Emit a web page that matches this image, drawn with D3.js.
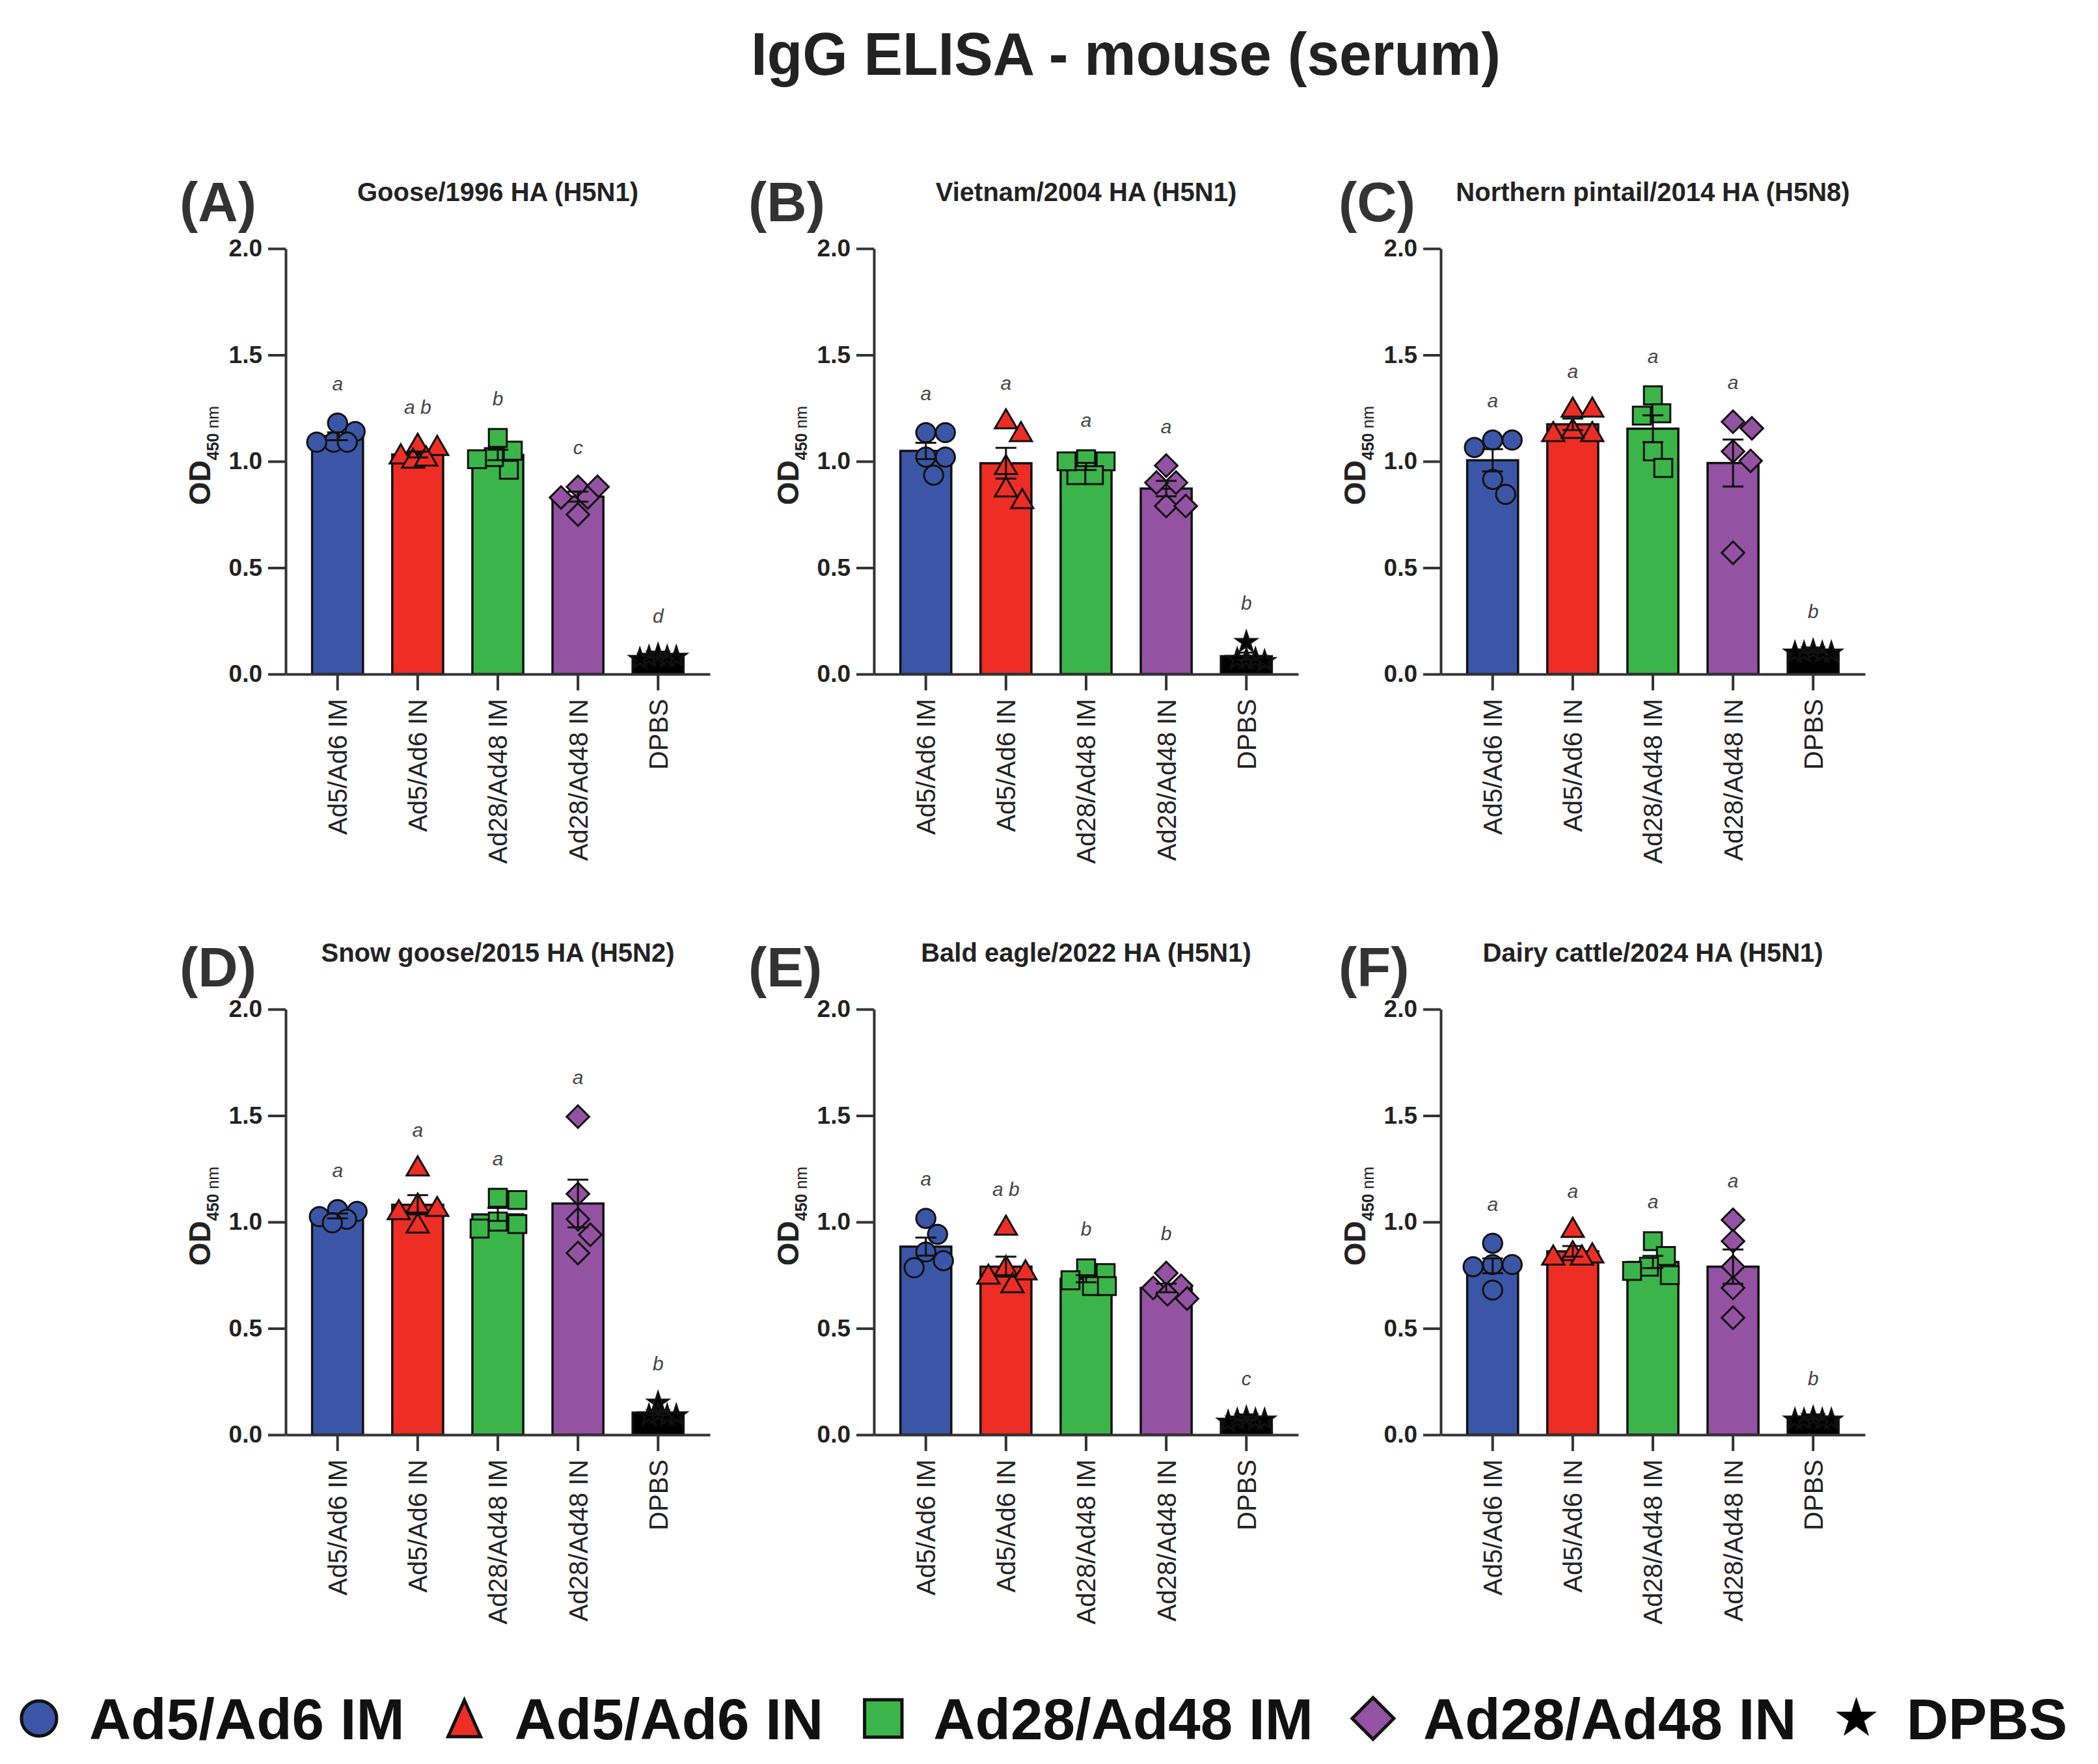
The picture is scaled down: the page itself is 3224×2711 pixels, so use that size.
<!DOCTYPE html>
<html>
<head>
<meta charset="utf-8">
<script src="https://cdn.jsdelivr.net/npm/d3@7"></script>
<style>
  body { margin: 0; background: #fff; }
  svg { display: block; }
  text { font-family: "Liberation Sans", Arial, Helvetica, sans-serif; fill: #222; }
</style>
</head>
<body>
<div id="chart"></div>
<script>
// data

const groups = ["Ad5/Ad6 IM", "Ad5/Ad6 IN", "Ad28/Ad48 IM", "Ad28/Ad48 IN", "DPBS"];
const group_colors = ["#3b56a6", "#ee2d24", "#3bb54a", "#9452a3", "#000000"];
const y_ticks = [0, 0.5, 1.0, 1.5, 2.0];

const panel_letters = ["(A)", "(B)", "(C)", "(D)", "(E)", "(F)"];
const panel_titles = [
    "Goose/1996 HA (H5N1)",
    "Vietnam/2004 HA (H5N1)",
    "Northern pintail/2014 HA (H5N8)",
    "Snow goose/2015 HA (H5N2)",
    "Bald eagle/2022 HA (H5N1)",
    "Dairy cattle/2024 HA (H5N1)"
];

// OD450 per mouse, one row per group (same order as groups)
const od_goose_1996 = [
    [1.18, 1.14, 1.09, 1.09, 1.09],
    [1.07, 1.06, 1.02, 1.00, 1.01],
    [1.05, 0.96, 1.02, 1.11, 1.01],
    [0.88, 0.88, 0.83, 0.83, 0.75],
    [0.09, 0.08, 0.08, 0.08, 0.07]
];
const od_vietnam_2004 = [
    [1.135, 1.135, 1.02, 1.02, 0.935],
    [1.185, 1.125, 0.97, 0.865, 0.81],
    [1.01, 1.00, 0.935, 0.935, 1.00],
    [0.98, 0.90, 0.90, 0.79, 0.79],
    [0.15, 0.07, 0.07, 0.07, 0.06]
];
const od_pintail_2014 = [
    [1.10, 1.10, 1.065, 0.915, 0.845],
    [1.24, 1.24, 1.125, 1.125, 1.14],
    [1.31, 1.226, 1.215, 1.047, 0.969],
    [1.186, 1.155, 1.047, 1.002, 0.57],
    [0.11, 0.10, 0.10, 0.10, 0.10]
];
const od_snow_goose_2015 = [
    [1.058, 1.05, 1.025, 1.013, 0.996],
    [1.249, 1.074, 1.058, 1.043, 0.98],
    [1.114, 1.103, 1.002, 0.99, 0.969],
    [1.495, 1.132, 1.013, 0.94, 0.854],
    [0.15, 0.10, 0.09, 0.09, 0.09]
];
const od_bald_eagle_2022 = [
    [1.017, 0.942, 0.859, 0.818, 0.785],
    [0.97, 0.78, 0.76, 0.74, 0.70],
    [0.782, 0.76, 0.726, 0.699, 0.699],
    [0.76, 0.70, 0.69, 0.66, 0.64],
    [0.08, 0.07, 0.07, 0.07, 0.06]
];
const od_dairy_cattle_2024 = [
    [0.90, 0.80, 0.80, 0.79, 0.68],
    [0.96, 0.85, 0.84, 0.83, 0.83],
    [0.91, 0.84, 0.79, 0.77, 0.75],
    [1.01, 0.91, 0.79, 0.69, 0.55],
    [0.08, 0.07, 0.07, 0.07, 0.07]
];

// significance letters
const sig_goose_1996 = ["a", "a b", "b", "c", "d"];
const sig_vietnam_2004 = ["a", "a", "a", "a", "b"];
const sig_pintail_2014 = ["a", "a", "a", "a", "b"];
const sig_snow_goose_2015 = ["a", "a", "a", "a", "b"];
const sig_bald_eagle_2022 = ["a", "a b", "b", "b", "c"];
const sig_dairy_cattle_2024 = ["a", "a", "a", "a", "b"];

const panel_values = [od_goose_1996, od_vietnam_2004, od_pintail_2014,
    od_snow_goose_2015, od_bald_eagle_2022, od_dairy_cattle_2024];
const panel_sig = [sig_goose_1996, sig_vietnam_2004, sig_pintail_2014,
    sig_snow_goose_2015, sig_bald_eagle_2022, sig_dairy_cattle_2024];

// layout
const W = 3224, H = 2711;
const col_x = [439, 1343, 2214];      // y axis position per column
const row_y0 = [1036, 2205];          // y = 0 line per row
const plot_w = 652, plot_h = 654;
const letter_x = [276, 1150, 2057];
const letter_base = [340, 1516];

// diamond = rotated square
const symbol_diamond = {
    draw(ctx, size) {
        const h = Math.sqrt(size / 2);
        ctx.moveTo(0, -h);
        ctx.lineTo(h, 0);
        ctx.lineTo(0, h);
        ctx.lineTo(-h, 0);
        ctx.closePath();
    }
};
// taller triangle for the legend key
const symbol_tall_triangle = {
    draw(ctx, size) {
        const w = Math.sqrt(size) * 1.0;
        const h = w * 1.12;
        ctx.moveTo(0, -h / 2);
        ctx.lineTo(w / 2, h / 2);
        ctx.lineTo(-w / 2, h / 2);
        ctx.closePath();
    }
};
const symbol_types = [d3.symbolCircle, d3.symbolTriangle, d3.symbolSquare, symbol_diamond, d3.symbolStar];
const legend_types = [d3.symbolCircle, symbol_tall_triangle, d3.symbolSquare, symbol_diamond, d3.symbolStar];
const plot_sizes = [680, 500, 760, 600, 300];
const legend_sizes = [2300, 2500, 3300, 2050, 1150];

const svg = d3.select("#chart")
    .append("svg")
    .attr("width", W)
    .attr("height", H);

svg.append("rect").attr("width", W).attr("height", H).attr("fill", "#fff");

// main title
svg.append("text")
    .attr("x", 1730)
    .attr("y", 115)
    .attr("text-anchor", "middle")
    .attr("font-size", 93)
    .attr("font-weight", "bold")
    .attr("textLength", 1152)
    .attr("lengthAdjust", "spacingAndGlyphs")
    .text("IgG ELISA - mouse (serum)");

// spread points sideways so they do not overlap (simple beeswarm)
function swarm(vals, y, r, max_off) {
    const order = d3.range(vals.length).sort((a, b) => vals[b] - vals[a]);
    const placed = [];
    const off = new Array(vals.length).fill(0);
    order.forEach((k) => {
        const py = y(vals[k]);
        let best = 0, best_d = -1, done = false;
        for (let s = 0; s <= max_off && !done; s++) {
            const cands = s === 0 ? [0] : [s, -s];
            for (const c of cands) {
                const dmin = placed.length ? d3.min(placed, (p) => Math.hypot(p[0] - c, p[1] - py)) : Infinity;
                if (dmin >= 2 * r) { best = c; done = true; break; }
                if (dmin > best_d) { best_d = dmin; best = c; }
            }
        }
        off[k] = best;
        placed.push([best, py]);
    });
    return off;
}

function sem(v) {
    return d3.deviation(v) / Math.sqrt(v.length);
}

panel_values.forEach((vals, i) => {
    const col = i % 3;
    const row = Math.floor(i / 3);
    const top = row_y0[row] - plot_h;

    // panel letter and title
    svg.append("text")
        .attr("x", letter_x[col])
        .attr("y", letter_base[row])
        .attr("font-size", 85)
        .attr("font-weight", "bold")
        .style("fill", "#333")
        .text(panel_letters[i]);

    svg.append("text")
        .attr("x", col_x[col] + plot_w / 2)
        .attr("y", top - 73)
        .attr("text-anchor", "middle")
        .attr("font-size", 40)
        .attr("font-weight", "bold")
        .text(panel_titles[i]);

    const g = svg.append("g").attr("transform", `translate(${col_x[col]},${top})`);

    const y = d3.scaleLinear().domain([0, 2]).range([plot_h, 0]);
    const x = d3.scaleBand().domain(groups).range([0, plot_w])
        .paddingInner(0.365).paddingOuter(0.33);

    const stats = groups.map((grp, j) => ({
        grp,
        j,
        vals: vals[j],
        mean: d3.mean(vals[j]),
        sem: sem(vals[j])
    }));

    // bars
    g.selectAll("rect.bar")
        .data(stats)
        .join("rect")
        .attr("class", "bar")
        .attr("x", (d) => x(d.grp))
        .attr("width", x.bandwidth())
        .attr("y", (d) => y(d.mean))
        .attr("height", (d) => y(0) - y(d.mean))
        .attr("fill", (d) => group_colors[d.j])
        .attr("stroke", "#111")
        .attr("stroke-width", 3.5);

    // points
    stats.forEach((d) => {
        const cx = x(d.grp) + x.bandwidth() / 2;
        const r = d.j === 4 ? 7 : 15;
        const offs = swarm(d.vals, y, r, 32);
        const sym = d3.symbol().type(symbol_types[d.j]).size(plot_sizes[d.j]);
        g.selectAll(null)
            .data(d.vals)
            .join("path")
            .attr("d", sym)
            .attr("transform", (v, k) => `translate(${cx + offs[k]},${y(v)})`)
            .attr("fill", group_colors[d.j])
            .attr("stroke", "#111")
            .attr("stroke-width", 3);
    });

    // error bars (mean +/- SEM)
    const eb = g.selectAll("g.err")
        .data(stats)
        .join("g")
        .attr("class", "err")
        .attr("stroke", "#111")
        .attr("stroke-width", 3);
    eb.append("line")
        .attr("x1", (d) => x(d.grp) + x.bandwidth() / 2)
        .attr("x2", (d) => x(d.grp) + x.bandwidth() / 2)
        .attr("y1", (d) => y(d.mean - d.sem))
        .attr("y2", (d) => y(d.mean + d.sem));
    [1, -1].forEach((sgn) => {
        eb.append("line")
            .attr("x1", (d) => x(d.grp) + x.bandwidth() / 2 - 16)
            .attr("x2", (d) => x(d.grp) + x.bandwidth() / 2 + 16)
            .attr("y1", (d) => y(d.mean + sgn * d.sem))
            .attr("y2", (d) => y(d.mean + sgn * d.sem));
    });

    // significance letters
    g.selectAll("text.sig")
        .data(stats)
        .join("text")
        .attr("class", "sig")
        .attr("x", (d) => x(d.grp) + x.bandwidth() / 2)
        .attr("y", (d) => y(Math.max(d3.max(d.vals), d.mean + d.sem)) - 50)
        .attr("text-anchor", "middle")
        .attr("font-size", 30)
        .attr("font-style", "italic")
        .style("fill", "#444")
        .text((d, j) => panel_sig[i][j]);

    // axes
    const ya = g.append("g")
        .call(d3.axisLeft(y).tickValues(y_ticks).tickFormat(d3.format(".1f"))
            .tickSize(27).tickSizeOuter(0).tickPadding(9));
    const xa = g.append("g")
        .attr("transform", `translate(0,${plot_h})`)
        .call(d3.axisBottom(x).tickSize(25).tickSizeOuter(0));

    [ya, xa].forEach((a) => {
        a.select(".domain").attr("stroke", "#333").attr("stroke-width", 4);
        a.selectAll(".tick line").attr("stroke", "#333").attr("stroke-width", 4);
    });
    ya.selectAll(".tick text")
        .attr("font-size", 37)
        .attr("font-weight", "bold")
        .attr("font-family", null)
        .style("fill", "#222");
    xa.selectAll(".tick text")
        .attr("font-size", 40)
        .attr("font-family", null)
        .attr("transform", "rotate(-90)")
        .attr("x", -38)
        .attr("y", 0)
        .attr("dy", "0.36em")
        .attr("text-anchor", "end")
        .style("fill", "#222");

    // y label OD450 nm
    const yl = g.append("text")
        .attr("transform", `translate(-116,${plot_h / 2 - 9}) rotate(-90)`)
        .attr("text-anchor", "middle");
    yl.append("tspan").attr("font-size", 46).attr("font-weight", "bold").text("OD");
    yl.append("tspan").attr("font-size", 25).attr("font-weight", "bold").attr("dy", 13).text("450");
    yl.append("tspan").attr("font-size", 25).text(" nm");
});

// legend
const legend_y = 2641;
let lx = 60;
groups.forEach((grp, j) => {
    svg.append("path")
        .attr("d", d3.symbol().type(legend_types[j]).size(legend_sizes[j]))
        .attr("transform", `translate(${lx},${legend_y})`)
        .attr("fill", group_colors[j])
        .attr("stroke", "#111")
        .attr("stroke-width", j === 4 ? 1 : 5);
    const t = svg.append("text")
        .attr("x", lx + 77)
        .attr("y", legend_y + 32)
        .attr("font-size", 89)
        .attr("font-weight", "bold")
        .style("fill", "#111")
        .text(grp);
    lx += 77 + t.node().getComputedTextLength() + 92;
});
</script>
</body>
</html>
